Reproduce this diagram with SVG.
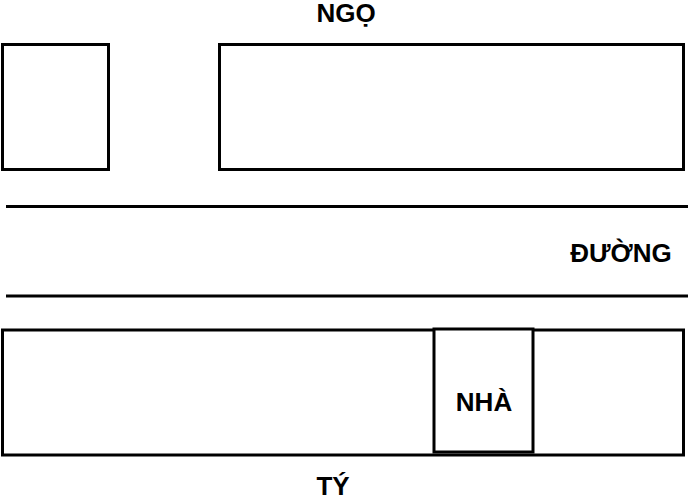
<svg xmlns="http://www.w3.org/2000/svg" width="688" height="501" viewBox="0 0 688 501">
<style>
.box{fill:#fff;stroke:#000;stroke-width:3}
.road{stroke:#000;stroke-width:3;fill:none}
.lbl{font-family:"Liberation Sans",Arial,sans-serif;font-weight:bold;font-size:26px;fill:#000}
</style>
<rect width="688" height="501" fill="#fff"/>
<g id="lot-left"><rect class="box" x="2.5" y="44.5" width="106" height="125"/></g>
<g id="lot-top"><rect class="box" x="219.5" y="44.5" width="464" height="125"/></g>
<g id="lot-bottom"><rect class="box" x="2.5" y="330" width="681" height="125"/></g>
<g id="nha"><rect class="box" x="434" y="329" width="99" height="123"/><text class="lbl" x="484" y="411" text-anchor="middle">NHÀ</text></g>
<g id="connectors">
<line class="road" x1="6" y1="206.5" x2="688" y2="206.5"/>
<line class="road" x1="6" y1="296" x2="688" y2="296"/>
</g>
<g id="labels">
<text class="lbl" x="346" y="22" text-anchor="middle">NGỌ</text>
<text class="lbl" x="621" y="262" text-anchor="middle">ĐƯỜNG</text>
<text class="lbl" x="333" y="495" text-anchor="middle">TÝ</text>
</g>
</svg>
